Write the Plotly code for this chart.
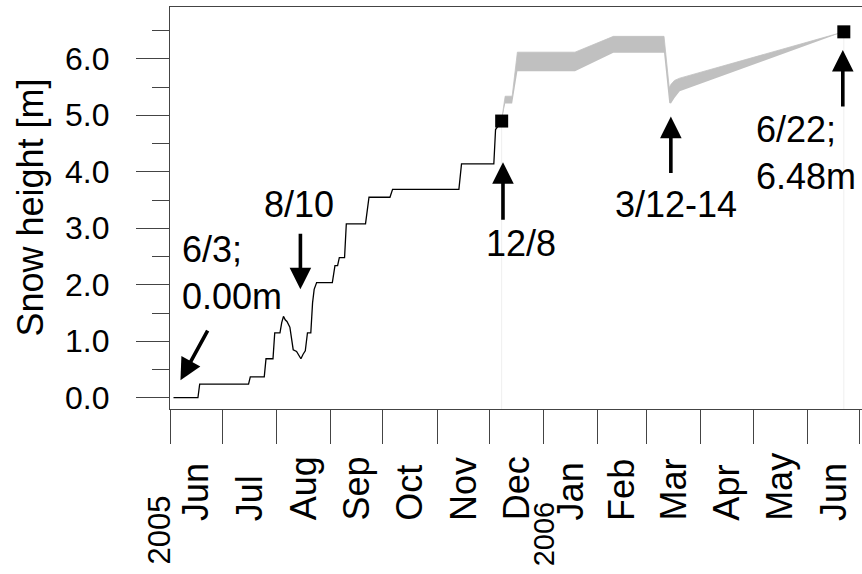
import pandas as pd
import plotly.graph_objects as go

# Measured snow height (black line) from 6/3 up to the 12/8 marker
obs_dates = [
    "2005-06-03", "2005-06-17", "2005-06-18", "2005-07-16", "2005-07-17",
    "2005-07-25", "2005-07-26", "2005-07-30", "2005-07-31", "2005-08-03",
    "2005-08-04", "2005-08-05", "2005-08-06", "2005-08-07", "2005-08-08 16:00",
    "2005-08-09 18:00", "2005-08-10 14:00", "2005-08-12 12:00", "2005-08-14",
    "2005-08-15", "2005-08-16 06:00", "2005-08-17 12:00", "2005-08-18 18:00",
    "2005-08-20 16:00", "2005-08-21 16:00", "2005-08-22 14:00", "2005-08-24",
    "2005-09-02", "2005-09-03 12:00", "2005-09-05", "2005-09-06", "2005-09-09",
    "2005-09-10", "2005-09-21", "2005-09-23", "2005-10-05", "2005-10-06 12:00",
    "2005-11-13 12:00", "2005-11-15", "2005-12-03 12:00", "2005-12-04 12:00",
    "2005-12-06 12:00", "2005-12-08",
]
obs_height = [
    0.00, 0.00, 0.24, 0.24, 0.37,
    0.37, 0.69, 0.69, 1.15, 1.15,
    1.33, 1.44, 1.38, 1.35, 1.25,
    1.03, 0.85, 0.82, 0.74,
    0.69, 0.77, 0.83, 1.15,
    1.15, 1.68, 1.92, 2.04,
    2.04, 2.34, 2.34, 2.48, 2.48,
    3.08, 3.08, 3.55, 3.55, 3.69,
    3.69, 4.14, 4.14, 4.75,
    4.85, 4.90,
]

# Estimated snow height range after 12/8 (grey band)
band_dates = [
    "2005-12-08", "2005-12-10", "2005-12-14", "2005-12-17", "2006-01-19",
    "2006-02-10", "2006-03-11", "2006-03-14", "2006-03-15", "2006-03-17",
    "2006-03-20", "2006-06-22",
]
band_low = [4.90, 5.21, 5.21, 5.78, 5.78, 6.11, 6.11, 5.22, 5.21, 5.31, 5.43, 6.48]
band_high = [4.92, 5.34, 5.34, 6.12, 6.12, 6.40, 6.40, 5.49, 5.55, 5.62, 5.66, 6.48]

# Marked points: 12/8 and 6/22 (6.48 m)
mark_dates = ["2005-12-08", "2006-06-22"]
mark_height = [4.90, 6.48]

# Axis ticks and labels
month_starts = [
    "2005-06-01", "2005-07-01", "2005-08-01", "2005-09-01", "2005-10-01",
    "2005-11-01", "2005-12-01", "2006-01-01", "2006-02-01", "2006-03-01",
    "2006-04-01", "2006-05-01", "2006-06-01", "2006-07-01",
]
month_labels = ["Jun", "Jul", "Aug", "Sep", "Oct", "Nov", "Dec",
                "Jan", "Feb", "Mar", "Apr", "May", "Jun"]
year_labels = ["2005", "2006"]
year_dates = ["2005-06-01", "2006-01-01"]
y_ticks = [0, 1, 2, 3, 4, 5, 6]

FONT = "Liberation Sans, Arial, sans-serif"
AXIS = "#444444"

starts = pd.to_datetime(month_starts)
month_mid = [starts[i] + (starts[i + 1] - starts[i]) / 2 for i in range(len(month_labels))]

fig = go.Figure()

# faint guide lines under the two marked points
for d, h in zip(mark_dates, mark_height):
    fig.add_trace(go.Scatter(x=[d, d], y=[-0.2, h], mode="lines",
                             line=dict(color="#efefef", width=1),
                             hoverinfo="skip", showlegend=False))

fig.add_trace(go.Scatter(x=band_dates, y=band_low, mode="lines",
                         line=dict(width=0, color="#c0c0c0"), showlegend=False))
fig.add_trace(go.Scatter(x=band_dates, y=band_high, mode="lines", fill="tonexty",
                         fillcolor="#c0c0c0", line=dict(width=0.8, color="#c0c0c0"),
                         showlegend=False))
fig.add_trace(go.Scatter(x=obs_dates, y=obs_height, mode="lines",
                         line=dict(color="black", width=1.3), showlegend=False))
fig.add_trace(go.Scatter(x=mark_dates, y=mark_height, mode="markers",
                         marker=dict(symbol="square", size=13, color="black"),
                         showlegend=False))

annotations = []

# y tick labels, right-aligned left of the ticks
for v in y_ticks:
    annotations.append(dict(x=-0.085, y=v, xref="paper", yref="y", text=f"{v:.1f}",
                            showarrow=False, xanchor="right", yanchor="middle",
                            font=dict(size=32, color="black", family=FONT)))

# month names under each month, year labels at the first tick of each year
for lab, mid in zip(month_labels, month_mid):
    annotations.append(dict(x=mid, y=-0.283, xref="x", yref="paper", text=lab,
                            textangle=-90, showarrow=False, xanchor="center",
                            yanchor="bottom", font=dict(size=36, color="black", family=FONT)))
for lab, d, sh, yy, fs in zip(year_labels, year_dates, [-11, 0], [-0.393, -0.396], [31, 29]):
    annotations.append(dict(x=d, y=yy, xref="x", yref="paper", text=lab,
                            textangle=-90, showarrow=False, xanchor="center", xshift=sh,
                            yanchor="bottom", font=dict(size=fs, color="black", family=FONT)))

# y axis title
annotations.append(dict(x=-0.203, y=0.5, xref="paper", yref="paper",
                        text="Snow height [m]", textangle=-90, showarrow=False,
                        xanchor="center", yanchor="middle",
                        font=dict(size=36, color="black", family=FONT)))

# event labels
txt_font = dict(size=36, color="black", family=FONT)
events = [
    ("6/3;<br>0.00m", "2005-06-06 12:00", 2.21, "left"),
    ("8/10", "2005-08-14", 3.43, "center"),
    ("12/8", "2005-12-19", 2.74, "center"),
    ("3/12-14", "2006-03-18", 3.43, "center"),
    ("6/22;<br>6.48m", "2006-05-01 12:00", 4.33, "left"),
]
for text, d, v, anchor in events:
    annotations.append(dict(x=d, y=v, xref="x", yref="y", text=text, align="left",
                            showarrow=False, xanchor=anchor, yanchor="middle",
                            font=txt_font))

# arrows (tip at x/y, tail offset in pixels)
arrows = [
    ("2005-06-07", 0.31, 28, -51),
    ("2005-08-14 17:00", 1.92, 0, -57),
    ("2005-12-08 18:00", 4.17, 0, 59),
    ("2006-03-14 22:00", 4.98, 0, 58),
    ("2006-06-21 10:00", 6.16, 0, 58),
]
for d, v, ax, ay in arrows:
    annotations.append(dict(x=d, y=v, xref="x", yref="y", text="", showarrow=True,
                            ax=ax, ay=ay, axref="pixel", ayref="pixel",
                            arrowhead=2, arrowsize=1.2, arrowwidth=3.6,
                            arrowcolor="black", standoff=0))

fig.update_layout(
    width=862, height=574,
    margin=dict(l=170, r=0, t=7, b=165),
    paper_bgcolor="white", plot_bgcolor="white",
    font=dict(family=FONT, color="black"),
    annotations=annotations,
    showlegend=False,
)
fig.update_xaxes(
    type="date", range=["2005-06-01", "2006-07-02 10:00"],
    tickvals=month_starts, showticklabels=False,
    ticks="outside", ticklen=34, tickwidth=1, tickcolor=AXIS,
    showline=True, linecolor=AXIS, linewidth=1, mirror=True,
    showgrid=False, zeroline=False,
)
fig.update_yaxes(
    range=[-0.2, 6.92], tickvals=y_ticks, showticklabels=False,
    ticks="outside", ticklen=33, tickwidth=1, tickcolor=AXIS,
    minor=dict(dtick=0.5, tick0=0, ticks="outside", ticklen=17, tickcolor=AXIS),
    showline=True, linecolor=AXIS, linewidth=1,
    showgrid=False, zeroline=False,
)

fig.write_html("out.html")
